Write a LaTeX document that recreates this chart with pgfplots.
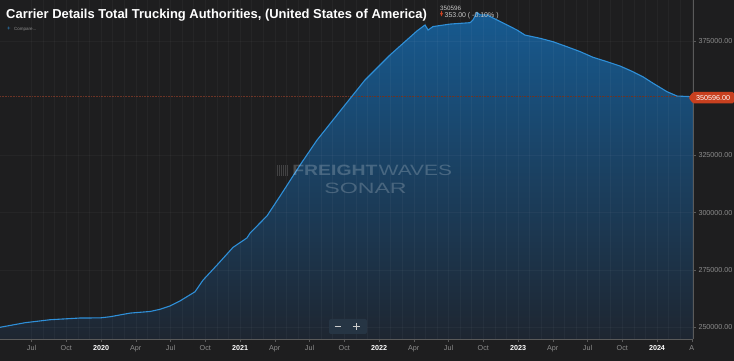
\documentclass[border=0pt]{standalone}
\usepackage{fontspec}
\setmainfont{Liberation Sans}
\usepackage{pgfplots}
\usepackage{pgfplotstable}
\pgfplotsset{compat=1.18}
\definecolor{bg}{HTML}{1E1E1F}
\definecolor{linebl}{HTML}{2E8FD8}
\definecolor{filltop}{HTML}{175A90}
\definecolor{fillbot}{HTML}{1E2631}
\definecolor{axgray}{HTML}{5A5A5A}
\definecolor{lblgray}{HTML}{8C8C8C}
\definecolor{redlbl}{HTML}{C8401F}
\definecolor{reddot}{HTML}{6B3325}
\definecolor{btn}{HTML}{263544}

\pgfplotstableread{
yr val
2019.273 250000
2019.453 252000
2019.633 253300
2019.849 254050
2019.993 254100
2020.065 254600
2020.209 256200
2020.353 256900
2020.424 257850
2020.496 259300
2020.568 261500
2020.676 265500
2020.734 270600
2020.835 277200
2020.950 284900
2021.050 289000
2021.072 291100
2021.194 298600
2021.309 309200
2021.432 320800
2021.554 331700
2021.612 336100
2021.755 347000
2021.899 357900
2022.079 368800
2022.201 375400
2022.273 379300
2022.331 381900
2022.353 379700
2022.388 381200
2022.511 382300
2022.655 382900
2022.676 384100
2022.705 387400
2022.727 386300
2022.777 386300
2022.849 384100
2022.921 381900
2022.993 379700
2023.050 377500
2023.158 376100
2023.252 374600
2023.353 372400
2023.446 370300
2023.540 367800
2023.640 365900
2023.734 364000
2023.827 361500
2023.899 359300
2023.971 356500
2024.072 352800
2024.144 350900
2024.259 350596
}\authdata

\pgfplotstableread{
yr val
2019.273 250000
2019.453 252000
2019.633 253300
2019.849 254050
2019.993 254100
2020.065 254600
2020.209 256200
2020.353 256900
2020.424 257850
2020.496 259300
2020.568 261500
2020.676 265500
2020.734 270600
2020.835 277200
2020.950 284900
2021.050 289000
2021.072 291100
2021.194 298600
2021.309 309200
2021.432 320800
2021.554 331700
2021.612 336100
2021.755 347000
2021.899 357900
2022.079 368800
2022.201 375400
2022.273 379300
2022.331 381900
2022.353 379700
2022.388 381200
2022.511 382300
2022.655 382900
2022.676 384100
2022.705 387400
2022.727 386300
2022.777 386300
2022.849 384100
2022.921 381900
2022.993 379700
2023.050 377500
2023.158 376100
2023.252 374600
2023.353 372400
2023.446 370300
2023.540 367800
2023.640 365900
2023.734 364000
2023.827 361500
2023.899 359300
2023.971 356500
2024.072 352800
2024.144 350900
2024.259 350596
2024.259 244895
2019.273 244895
}\authfill

\begin{document}
\begin{tikzpicture}
\fill[bg] (0,0) rectangle (734bp,361bp);
\useasboundingbox (0,0) rectangle (734bp,361bp);
\begin{axis}[
  at={(0,22bp)}, anchor=south west,
  scale only axis, width=693bp, height=339bp,
  xmin=2019.273, xmax=2024.259,
  ymin=244895, ymax=392801,
  axis x line*=bottom, axis y line*=right,
  axis line style={axgray, line width=0.6bp},
  axis on top,
  tick align=outside,
  major tick length=3bp,
  tick style={axgray, line width=0.5bp},
  minor tick length=0pt,
  xtick={2019.5,2019.75,2020,2020.25,2020.5,2020.75,2021,2021.25,2021.5,2021.75,2022,2022.25,2022.5,2022.75,2023,2023.25,2023.5,2023.75,2024,2024.25},
  xticklabels={Jul,Oct,\textbf{\color{white}2020},Apr,Jul,Oct,\textbf{\color{white}2021},Apr,Jul,Oct,\textbf{\color{white}2022},Apr,Jul,Oct,\textbf{\color{white}2023},Apr,Jul,Oct,\textbf{\color{white}2024},A},
  minor x tick num=2,
  ytick={250000,275000,300000,325000,375000},
  yticklabels={250000.00,275000.00,300000.00,325000.00,375000.00},
  ymajorgrids, xmajorgrids, xminorgrids,
  major grid style={white, opacity=0.035, line width=0.5bp},
  minor grid style={white, opacity=0.035, line width=0.5bp},
  tick label style={font=\fontsize{7.2}{8}\selectfont, text=lblgray},
  yticklabel style={anchor=west, xshift=-1bp},
  /pgf/number format/assume math mode=true,
]
\addplot[draw=none, top color=filltop, bottom color=fillbot] table[x=yr, y=val] {\authfill};
\addplot[reddot, densely dotted, line width=0.6bp] coordinates {(2019.273,350596) (2024.259,350596)};
\addplot[linebl, line width=1.1bp] table[x=yr, y=val] {\authdata};
\end{axis}

\begin{scope}[shift={(0,361bp)}, x=1bp, y=-1bp]
% title
\node[anchor=base west, inner sep=0, text=white, font=\fontsize{13}{15}\selectfont\bfseries] at (6,18.3) {Carrier Details Total Trucking Authorities, (United States of America)};
\node[anchor=base west, inner sep=0, text=white!78!black, font=\fontsize{6.3}{7}\selectfont] at (440,10.5) {350596};
\fill[redlbl] (440,13) -- (443,13) -- (441.5,16.5) -- cycle;
\draw[redlbl, line width=0.6bp] (441.5,11) -- (441.5,14);
\node[anchor=base west, inner sep=0, text=white!78!black, font=\fontsize{7}{8}\selectfont] at (444.5,18) {353.00 ( -0.10\% )};
% compare
\node[anchor=base west, inner sep=0, text=linebl, font=\fontsize{6}{7}\selectfont] at (7,31) {+};
\node[anchor=base west, inner sep=0, text=lblgray, font=\fontsize{4.5}{5}\selectfont] at (14,30.5) {Compare...};
% watermark
\foreach \i in {277,279,281,283,285,287}{\fill[white, opacity=0.16] (\i,165) rectangle (\i+1.2,176);}
\node[anchor=base west, inner sep=0, xscale=1.3, text=white, text opacity=0.2, font=\fontsize{15}{16}\selectfont\bfseries] at (292,176) {FREIGHT};
\node[anchor=base west, inner sep=0, xscale=1.4, text=white, text opacity=0.2, font=\fontsize{15}{16}\selectfont] at (378.5,176) {WAVES};
\node[anchor=base west, inner sep=0, xscale=1.55, text=white, text opacity=0.2, font=\fontsize{15}{16}\selectfont] at (324,193.5) {SONAR};
% zoom buttons
\fill[btn, rounded corners=2bp] (329,319) rectangle (367,334);
\draw[white!80!black, line width=1bp] (334.5,327) -- (341,327);
\draw[white!80!black, line width=1bp] (352.5,327) -- (359.5,327) (356,323.5) -- (356,330.5);
% red value label
\fill[redlbl, rounded corners=1.5bp] (688.5,97.7) -- (693,92) -- (734,92) -- (734,103.5) -- (693,103.5) -- cycle;
\node[anchor=west, inner sep=0, text=white, font=\fontsize{7.2}{8}\selectfont] at (696,97.9) {350596.00};
\end{scope}
\end{tikzpicture}
\end{document}
